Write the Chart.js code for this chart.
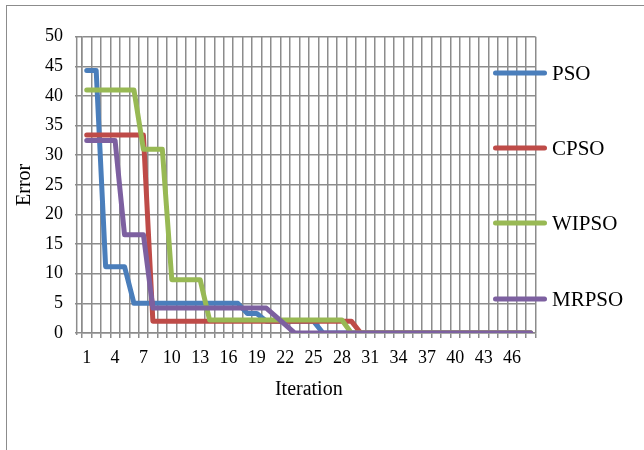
<!DOCTYPE html>
<html lang="en">
<head>
    <meta charset="UTF-8">
    <title>Error vs Iteration</title>
    <script src="https://cdn.jsdelivr.net/npm/chart.js@4.4.0/dist/chart.umd.min.js"></script>
    <style>
        html, body {
            margin: 0;
            padding: 0;
            background: #fff;
            overflow: hidden;
        }
        .frame {
            position: absolute;
            left: 6px;
            top: 5px;
            width: 700px;
            height: 500px;
            border-left: 1.5px solid #8c8c8c;
            border-top: 1.5px solid #8c8c8c;
        }
        #errChart {
            position: absolute;
            left: 0;
            top: 0;
        }
    </style>
</head>
<body>
    <div class="frame"></div>
    <canvas id="errChart" width="644" height="450"></canvas>

    <script>
        const iterations = ['1','2','3','4','5','6','7','8','9','10','11','12','13','14','15','16',
            '17','18','19','20','21','22','23','24','25','26','27','28','29','30','31','32',
            '33','34','35','36','37','38','39','40','41','42','43','44','45','46','47','48'];
        const shownTicks = ['1','4','7','10','13','16','19','22','25','28','31','34','37','40','43','46'];

        const pso = [44.3, 44.3, 11.2, 11.2, 11.2, 5, 5, 5, 5, 5, 5, 5, 5, 5, 5, 5, 5, 3.3, 3.3,
            2, 2, 2, 2, 2, 2, 0, 0, 0, 0, 0, 0, 0, 0, 0, 0, 0, 0, 0, 0, 0, 0, 0, 0, 0, 0, 0, 0, 0];
        const cpso = [33.4, 33.4, 33.4, 33.4, 33.4, 33.4, 33.4, 2, 2, 2, 2, 2, 2, 2, 2, 2, 2, 2, 2,
            2, 2, 2, 2, 2, 2, 2, 2, 2, 2, 0, 0, 0, 0, 0, 0, 0, 0, 0, 0, 0, 0, 0, 0, 0, 0, 0, 0, 0];
        const wipso = [41, 41, 41, 41, 41, 41, 31, 31, 31, 9, 9, 9, 9, 2.2, 2.2, 2.2, 2.2, 2.2, 2.2,
            2.2, 2.2, 2.2, 2.2, 2.2, 2.2, 2.2, 2.2, 2.2, 0, 0, 0, 0, 0, 0, 0, 0, 0, 0, 0, 0, 0, 0, 0, 0, 0, 0, 0, 0];
        const mrpso = [32.5, 32.5, 32.5, 32.5, 16.6, 16.6, 16.6, 4.2, 4.2, 4.2, 4.2, 4.2, 4.2, 4.2, 4.2, 4.2,
            4.2, 4.2, 4.2, 4.2, 2.8, 1.4, 0, 0, 0, 0, 0, 0, 0, 0, 0, 0, 0, 0, 0, 0, 0, 0, 0, 0, 0, 0, 0, 0, 0, 0, 0, 0];

        const serif = "'Liberation Serif', 'Times New Roman', serif";
        const gridGrey = '#8c8c8c';

        // legend sits half over the plot, like the original, so draw it by hand
        const legendRows = [73, 148, 223, 299];
        const sideLegend = {
            id: 'sideLegend',
            beforeDatasetsDraw(chart) {
                const ctx = chart.ctx;
                const area = chart.chartArea;
                ctx.save();
                ctx.strokeStyle = gridGrey;
                ctx.lineWidth = 1.5;
                ctx.beginPath();
                ctx.moveTo(area.left - 5.3, area.top);
                ctx.lineTo(area.left - 5.3, area.bottom + 2);
                ctx.stroke();
                ctx.restore();
            },
            afterDraw(chart) {
                const ctx = chart.ctx;
                ctx.save();
                ctx.font = '21px ' + serif;
                ctx.textAlign = 'left';
                ctx.textBaseline = 'middle';
                chart.data.datasets.forEach((ds, i) => {
                    const y = legendRows[i];
                    ctx.strokeStyle = ds.borderColor;
                    ctx.lineWidth = 5;
                    ctx.lineCap = 'round';
                    ctx.beginPath();
                    ctx.moveTo(495.5, y);
                    ctx.lineTo(544.5, y);
                    ctx.stroke();
                    ctx.fillStyle = '#000';
                    ctx.fillText(ds.label, 552, y + 1);
                });
                ctx.restore();
            }
        };

        function line(label, data, color, order) {
            return {
                label: label,
                data: data,
                borderColor: color,
                backgroundColor: color,
                borderWidth: 5,
                pointRadius: 0,
                tension: 0,
                borderJoinStyle: 'round',
                borderCapStyle: 'round',
                fill: false,
                order: order
            };
        }

        new Chart(document.getElementById('errChart'), {
            type: 'line',
            data: {
                labels: iterations,
                datasets: [
                    line('PSO', pso, '#4a7ebb', 4),
                    line('CPSO', cpso, '#be4b48', 3),
                    line('WIPSO', wipso, '#98b954', 2),
                    line('MRPSO', mrpso, '#7d60a0', 1)
                ]
            },
            options: {
                responsive: false,
                animation: false,
                devicePixelRatio: 1,
                layout: { padding: { top: 36.7, right: 108.4, bottom: 0, left: 0 } },
                plugins: {
                    legend: { display: false },
                    tooltip: { enabled: false }
                },
                scales: {
                    x: {
                        type: 'category',
                        offset: true,
                        grid: { offset: true, color: gridGrey, lineWidth: 1.5, tickLength: 5 },
                        border: { color: gridGrey, width: 1.5 },
                        ticks: {
                            autoSkip: false,
                            maxRotation: 0,
                            minRotation: 0,
                            padding: 9,
                            color: '#000',
                            font: { family: serif, size: 18 },
                            callback: function (value) {
                                const lab = this.getLabelForValue(value);
                                return shownTicks.includes(lab) ? lab : '';
                            }
                        },
                        title: {
                            display: true,
                            text: 'Iteration',
                            color: '#000',
                            font: { family: serif, size: 20 },
                            padding: { top: 0, bottom: 48 }
                        },
                        afterFit: (scale) => { scale.height = 117; }
                    },
                    y: {
                        min: 0,
                        max: 50,
                        grid: { color: gridGrey, lineWidth: 1.5, tickLength: 7 },
                        border: { color: gridGrey, width: 1.5 },
                        ticks: {
                            stepSize: 5,
                            padding: 12,
                            color: '#000',
                            font: { family: serif, size: 18 }
                        },
                        title: {
                            display: true,
                            text: 'Error',
                            color: '#000',
                            font: { family: serif, size: 20 },
                            padding: { top: 13, bottom: 0 }
                        },
                        afterFit: (scale) => { scale.width = 82; }
                    }
                }
            },
            plugins: [sideLegend]
        });
    </script>
</body>
</html>
